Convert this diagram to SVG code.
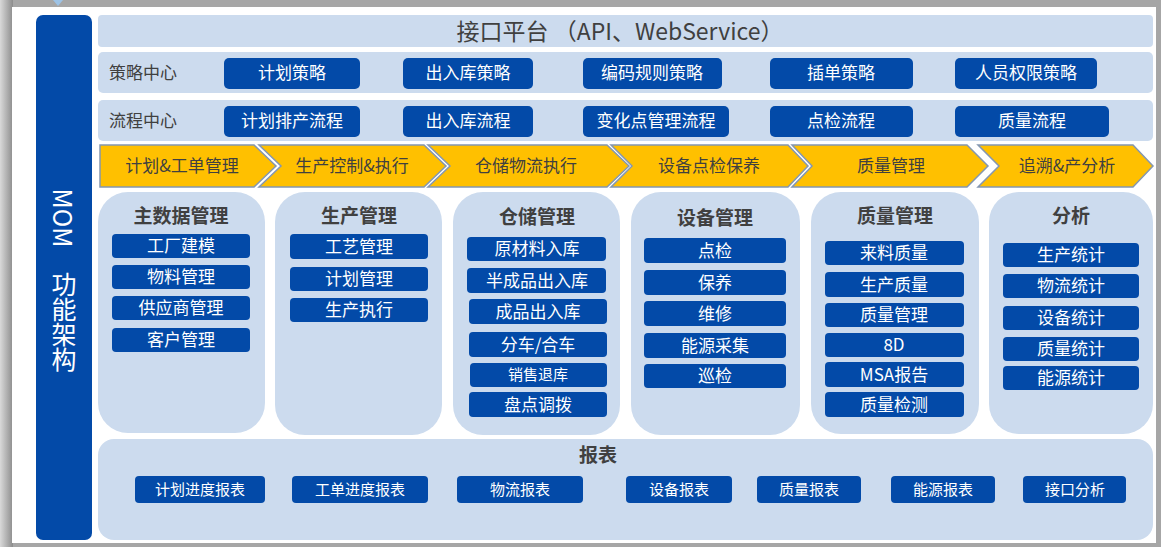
<svg xmlns="http://www.w3.org/2000/svg" width="1161" height="547" viewBox="0 0 1161 547">
<defs>
<style>
text{font-family:"Noto Sans CJK SC","Microsoft YaHei",sans-serif;dominant-baseline:central;text-anchor:middle}
.panel{fill:#CCDBEE}
.btn{fill:#034AA8}
.bt{fill:#ffffff;font-size:17px}
.sm{fill:#ffffff;font-size:15px}
.lbl{fill:#404040;font-size:17px;text-anchor:start}
.ttl{fill:#404040;font-size:19px;font-weight:bold}
.arr{fill:#FFC000;stroke:#8497B0;stroke-width:1.5}
.at{fill:#404040;font-size:17px}
.v{fill:#ffffff;font-size:25px}
.vt{fill:#ffffff;font-size:25px;writing-mode:vertical-rl;text-anchor:start}
</style>
<linearGradient id="shL" x1="0" y1="0" x2="1" y2="0"><stop offset="0" stop-color="#d9d9d9"/><stop offset="1" stop-color="#8c8c8c"/></linearGradient>
</defs>
<rect x="0" y="0" width="1161" height="547" fill="#a6a6a6"/>
<rect x="0" y="0" width="13" height="547" fill="url(#shL)"/>
<rect x="12" y="7" width="1144" height="536" fill="#ffffff"/>
<polygon points="53,0 63,0 58,6" fill="#9DC3E6"/>

<g id="mom">
<rect x="36" y="15" width="56" height="525" rx="7" fill="#034AA8"/>
<text class="v" transform="translate(64,218) rotate(90)">MOM</text>
<text class="vt" x="64" y="272">功能架构</text>
</g>

<g id="api">
<rect class="panel" x="98" y="15" width="1055" height="32" rx="4"/>
<text x="620" y="30" fill="#404040" font-size="23">接口平台 （API、WebService）</text>
</g>

<g id="strategy">
<rect class="panel" x="98" y="52" width="1055" height="41" rx="5"/>
<text class="lbl" x="109" y="71">策略中心</text>
<g id="s1"><rect class="btn" x="224" y="58" width="136" height="31" rx="5"/><text class="bt" x="292" y="71.5">计划策略</text></g>
<g id="s2"><rect class="btn" x="403" y="58" width="130" height="31" rx="5"/><text class="bt" x="468" y="71.5">出入库策略</text></g>
<g id="s3"><rect class="btn" x="583" y="58" width="139" height="31" rx="5"/><text class="bt" x="652" y="71.5">编码规则策略</text></g>
<g id="s4"><rect class="btn" x="770" y="58" width="143" height="31" rx="5"/><text class="bt" x="841" y="71.5">插单策略</text></g>
<g id="s5"><rect class="btn" x="955" y="58" width="142" height="31" rx="5"/><text class="bt" x="1026" y="71.5">人员权限策略</text></g>
</g>

<g id="flow">
<rect class="panel" x="98" y="100" width="1055" height="41" rx="5"/>
<text class="lbl" x="109" y="119">流程中心</text>
<g id="f1"><rect class="btn" x="224" y="106" width="136" height="31" rx="5"/><text class="bt" x="292" y="119.5">计划排产流程</text></g>
<g id="f2"><rect class="btn" x="403" y="106" width="130" height="31" rx="5"/><text class="bt" x="468" y="119.5">出入库流程</text></g>
<g id="f3"><rect class="btn" x="583" y="106" width="146" height="31" rx="5"/><text class="bt" x="656" y="119.5">变化点管理流程</text></g>
<g id="f4"><rect class="btn" x="770" y="106" width="143" height="31" rx="5"/><text class="bt" x="841" y="119.5">点检流程</text></g>
<g id="f5"><rect class="btn" x="955" y="106" width="154" height="31" rx="5"/><text class="bt" x="1032" y="119.5">质量流程</text></g>
</g>

<g id="process">
<g id="a1"><polygon class="arr" points="100,145 254,145 276,166 254,187 100,187"/><text class="at" x="182" y="164.5">计划&amp;工单管理</text></g>
<g id="a2"><polygon class="arr" points="259,145 424,145 446,166 424,187 259,187 281,166"/><text class="at" x="352" y="164.5">生产控制&amp;执行</text></g>
<g id="a3"><polygon class="arr" points="428,145 607,145 629,166 607,187 428,187 450,166"/><text class="at" x="526" y="164.5">仓储物流执行</text></g>
<g id="a4"><polygon class="arr" points="611,145 788,145 808,166 788,187 611,187 632,166"/><text class="at" x="709" y="164.5">设备点检保养</text></g>
<g id="a5"><polygon class="arr" points="792,145 967,145 988,166 967,187 792,187 812,166"/><text class="at" x="891" y="164.5">质量管理</text></g>
<g id="a6"><polygon class="arr" points="978,145 1133,145 1153,166 1133,187 978,187 999,166"/><text class="at" x="1067" y="164.5">追溯&amp;产分析</text></g>
</g>

<g id="col1">
<rect class="panel" x="98" y="192" width="167" height="241" rx="30"/>
<text class="ttl" x="181" y="214">主数据管理</text>
<rect class="btn" x="112" y="234" width="138" height="24" rx="4"/><text class="bt" x="181" y="244.5">工厂建模</text>
<rect class="btn" x="112" y="265" width="138" height="24" rx="4"/><text class="bt" x="181" y="275.5">物料管理</text>
<rect class="btn" x="112" y="296" width="138" height="24" rx="4"/><text class="bt" x="181" y="306.5">供应商管理</text>
<rect class="btn" x="112" y="328" width="138" height="24" rx="4"/><text class="bt" x="181" y="338.5">客户管理</text>
</g>

<g id="col2">
<rect class="panel" x="275" y="192" width="167" height="243" rx="30"/>
<text class="ttl" x="359" y="214">生产管理</text>
<rect class="btn" x="290" y="234" width="138" height="25" rx="4"/><text class="bt" x="359" y="245">工艺管理</text>
<rect class="btn" x="290" y="267" width="138" height="24" rx="4"/><text class="bt" x="359" y="277.5">计划管理</text>
<rect class="btn" x="290" y="298" width="138" height="24" rx="4"/><text class="bt" x="359" y="308.5">生产执行</text>
</g>

<g id="col3">
<rect class="panel" x="453" y="192" width="167" height="243" rx="30"/>
<text class="ttl" x="537" y="215">仓储管理</text>
<rect class="btn" x="467" y="237" width="139" height="24" rx="4"/><text class="bt" x="537" y="247.5">原材料入库</text>
<rect class="btn" x="467" y="268" width="139" height="25" rx="4"/><text class="bt" x="537" y="279">半成品出入库</text>
<rect class="btn" x="469" y="299" width="138" height="25" rx="4"/><text class="bt" x="538" y="310">成品出入库</text>
<rect class="btn" x="469" y="332" width="138" height="25" rx="4"/><text class="bt" x="538" y="343">分车/合车</text>
<rect class="btn" x="470" y="363" width="137" height="24" rx="4"/><text class="sm" x="538" y="373.5">销售退库</text>
<rect class="btn" x="469" y="392" width="138" height="25" rx="4"/><text class="bt" x="538" y="403">盘点调拨</text>
</g>

<g id="col4">
<rect class="panel" x="631" y="192" width="169" height="243" rx="30"/>
<text class="ttl" x="715" y="216">设备管理</text>
<rect class="btn" x="644" y="238" width="142" height="25" rx="4"/><text class="bt" x="715" y="249">点检</text>
<rect class="btn" x="644" y="270" width="142" height="25" rx="4"/><text class="bt" x="715" y="281">保养</text>
<rect class="btn" x="644" y="301" width="142" height="25" rx="4"/><text class="bt" x="715" y="312">维修</text>
<rect class="btn" x="644" y="333" width="142" height="25" rx="4"/><text class="bt" x="715" y="344">能源采集</text>
<rect class="btn" x="644" y="364" width="142" height="24" rx="4"/><text class="bt" x="715" y="374.5">巡检</text>
</g>

<g id="col5">
<rect class="panel" x="811" y="192" width="168" height="242" rx="30"/>
<text class="ttl" x="895" y="214">质量管理</text>
<rect class="btn" x="825" y="241" width="139" height="24" rx="4"/><text class="bt" x="894" y="251.5">来料质量</text>
<rect class="btn" x="825" y="272" width="139" height="25" rx="4"/><text class="bt" x="894" y="283">生产质量</text>
<rect class="btn" x="825" y="303" width="139" height="24" rx="4"/><text class="bt" x="894" y="313.5">质量管理</text>
<rect class="btn" x="825" y="333" width="139" height="24" rx="4"/><text class="bt" x="894" y="343.5">8D</text>
<rect class="btn" x="825" y="362" width="139" height="25" rx="4"/><text class="bt" x="894" y="373">MSA报告</text>
<rect class="btn" x="825" y="392" width="139" height="25" rx="4"/><text class="bt" x="894" y="403">质量检测</text>
</g>

<g id="col6">
<rect class="panel" x="989" y="192" width="164" height="242" rx="30"/>
<text class="ttl" x="1071" y="214">分析</text>
<rect class="btn" x="1003" y="243" width="136" height="24" rx="4"/><text class="bt" x="1071" y="253.5">生产统计</text>
<rect class="btn" x="1003" y="274" width="136" height="24" rx="4"/><text class="bt" x="1071" y="284.5">物流统计</text>
<rect class="btn" x="1003" y="306" width="136" height="24" rx="4"/><text class="bt" x="1071" y="316.5">设备统计</text>
<rect class="btn" x="1003" y="337" width="136" height="24" rx="4"/><text class="bt" x="1071" y="347.5">质量统计</text>
<rect class="btn" x="1003" y="366" width="136" height="24" rx="4"/><text class="bt" x="1071" y="376.5">能源统计</text>
</g>

<g id="report">
<rect class="panel" x="98" y="439" width="1055" height="101" rx="16"/>
<text class="ttl" x="598" y="453">报表</text>
<rect class="btn" x="135" y="476" width="130" height="27" rx="4"/><text class="sm" x="200" y="488.5">计划进度报表</text>
<rect class="btn" x="292" y="476" width="136" height="27" rx="4"/><text class="sm" x="360" y="488.5">工单进度报表</text>
<rect class="btn" x="457" y="476" width="126" height="27" rx="4"/><text class="sm" x="520" y="488.5">物流报表</text>
<rect class="btn" x="626" y="476" width="106" height="27" rx="4"/><text class="sm" x="679" y="488.5">设备报表</text>
<rect class="btn" x="757" y="476" width="104" height="27" rx="4"/><text class="sm" x="809" y="488.5">质量报表</text>
<rect class="btn" x="891" y="476" width="104" height="27" rx="4"/><text class="sm" x="943" y="488.5">能源报表</text>
<rect class="btn" x="1023" y="476" width="103" height="27" rx="4"/><text class="sm" x="1075" y="488.5">接口分析</text>
</g>
<g id="connectors"/>
</svg>
